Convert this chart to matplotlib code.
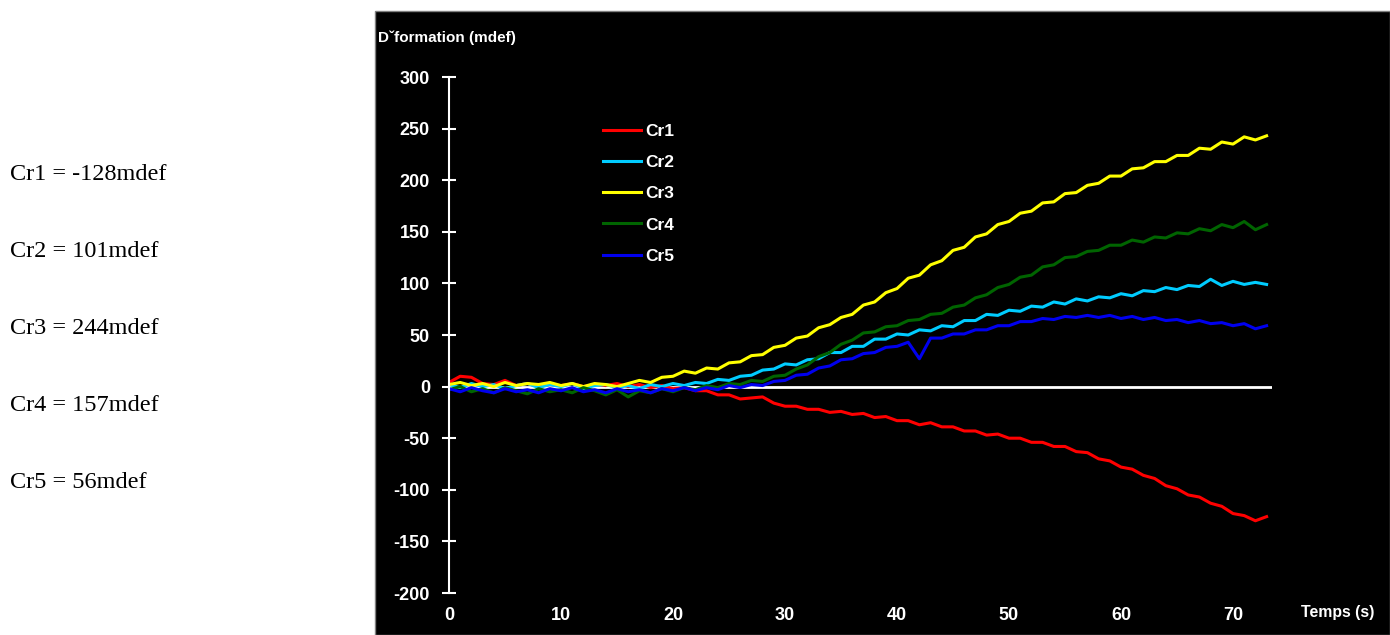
import numpy as np
import matplotlib
matplotlib.use('Agg')
import matplotlib.pyplot as plt
from matplotlib.patches import Rectangle

plt.rcParams['font.family'] = ['Liberation Sans', 'DejaVu Sans']
plt.rcParams['axes.unicode_minus'] = False

# time axis, one reading per second
temps = np.arange(0, 74)

cr1 = [4, 10, 9, 3, 2, 6, 1, 3, 0, 2, 1, 3, 0, 2, 1, 3, 0, 2, -1, 1,
       -2, -1, -4, -4, -8, -8, -12, -11, -10, -16, -19, -19, -22, -22, -25, -24, -27, -26, -30, -29,
       -33, -33, -37, -35, -39, -39, -43, -43, -47, -46, -50, -50, -54, -54, -58, -58, -63, -64, -70, -72,
       -78, -80, -86, -89, -96, -99, -105, -107, -113, -116, -123, -125, -130, -126]
cr2 = [2, -1, 3, 0, 2, -2, 1, 3, -1, 2, 0, 3, -2, 1, 2, -1, 1, -2, 2, 0,
       3, 1, 4, 3, 7, 6, 10, 11, 16, 17, 22, 21, 26, 27, 33, 33, 39, 39, 46, 46,
       51, 50, 55, 54, 59, 58, 64, 64, 70, 69, 74, 73, 78, 77, 82, 80, 85, 83, 87, 86,
       90, 88, 93, 92, 96, 94, 98, 97, 104, 98, 102, 99, 101, 99]
cr3 = [2, 4, 1, 3, 0, 4, 1, 3, 2, 4, 1, 3, 0, 3, 2, 0, 3, 6, 4, 9,
       10, 15, 13, 18, 17, 23, 24, 30, 31, 38, 40, 47, 49, 57, 60, 67, 70, 79, 82, 91,
       95, 105, 108, 118, 122, 132, 135, 145, 148, 157, 160, 168, 170, 178, 179, 187, 188, 195, 197, 204,
       204, 211, 212, 218, 218, 224, 224, 231, 230, 237, 235, 242, 239, 243]
cr4 = [-3, 0, -5, -2, -6, -1, -4, -7, -2, -5, -3, -6, -1, -4, -8, -3, -10, -4, -6, -2,
       -5, -1, -3, 1, -1, 3, 2, 6, 5, 10, 11, 17, 21, 29, 33, 41, 45, 52, 53, 58,
       59, 64, 65, 70, 71, 77, 79, 86, 89, 96, 99, 106, 108, 116, 118, 125, 126, 131, 132, 137,
       137, 142, 140, 145, 144, 149, 148, 153, 151, 157, 154, 160, 152, 157]
cr5 = [-2, -5, -1, -4, -6, -2, -5, -3, -6, -2, -4, -1, -5, -3, -6, -2, -5, -3, -6, -2,
       -4, -1, -4, -1, -3, 1, -1, 2, 1, 5, 6, 11, 12, 18, 20, 26, 27, 32, 33, 38,
       39, 43, 27, 47, 47, 51, 51, 55, 55, 59, 59, 63, 63, 66, 65, 68, 67, 69, 67, 69,
       66, 68, 65, 67, 64, 65, 62, 64, 61, 62, 59, 61, 56, 59]

series = [cr1, cr2, cr3, cr4, cr5]
labels = ['Cr1', 'Cr2', 'Cr3', 'Cr4', 'Cr5']
colors = ['#ff0000', '#00ccff', '#ffff00', '#006400', '#0000ee']

notes = ['Cr1 = -128mdef', 'Cr2 = 101mdef', 'Cr3 = 244mdef',
         'Cr4 = 157mdef', 'Cr5 = 56mdef']

W, H = 1390, 635
fig = plt.figure(figsize=(W / 100, H / 100), dpi=100)
fig.patch.set_facecolor('white')

# black panel behind the plot
fig.patches.append(Rectangle((375 / W, 0), 1 - 375 / W, (H - 11) / H,
                             transform=fig.transFigure, facecolor='black',
                             edgecolor='#808080', lw=1, zorder=-5))

ax = fig.add_axes([449 / W, (H - 593) / H, 73.5 * 11.2 / W, 516 / H])
ax.set_zorder(2)
ax.set_facecolor('none')
ax.set_xlim(0, 73.5)
ax.set_ylim(-200, 300)

ax.axhline(0, color='white', lw=2, zorder=1)
for y, lab, c in zip(series, labels, colors):
    ax.plot(temps, y, color=c, lw=2.2, label=lab, zorder=2)

for side in ['top', 'right', 'bottom']:
    ax.spines[side].set_visible(False)
ax.spines['left'].set_color('white')
ax.spines['left'].set_linewidth(1.5)

ax.set_yticks(np.arange(-200, 301, 50))
ax.set_xticks(np.arange(0, 71, 10))
ax.tick_params(axis='y', direction='inout', length=9.5, width=1.5,
               color='white', labelcolor='white', labelsize=13, pad=9)
ax.tick_params(axis='x', length=0, labelcolor='white', labelsize=13, pad=10)
for t in ax.get_xticklabels() + ax.get_yticklabels():
    t.set_fontweight('bold')

fig.text(378 / W, 1 - 38 / H, 'D\u02c7formation (mdef)', color='white',
         fontsize=11, fontweight='bold', ha='left', va='center')
fig.text(1338 / W, 1 - 612 / H, 'Temps (s)', color='white',
         fontsize=11.4, fontweight='bold', ha='center', va='center')

leg = ax.legend(loc='upper left', bbox_to_anchor=(603 / W, 1 - 124 / H),
                bbox_transform=fig.transFigure, frameon=False,
                prop={'weight': 'bold', 'size': 12.5}, labelcolor='white',
                handlelength=2.2, handletextpad=0.25, labelspacing=0.92,
                borderpad=0, borderaxespad=0)

for i, s in enumerate(notes):
    fig.text(10 / W, 1 - (175 + i * 76.8) / H, s, family='Liberation Serif',
             fontsize=17.5, color='black', ha='left', va='center')

fig.savefig('out.png', dpi=100)
